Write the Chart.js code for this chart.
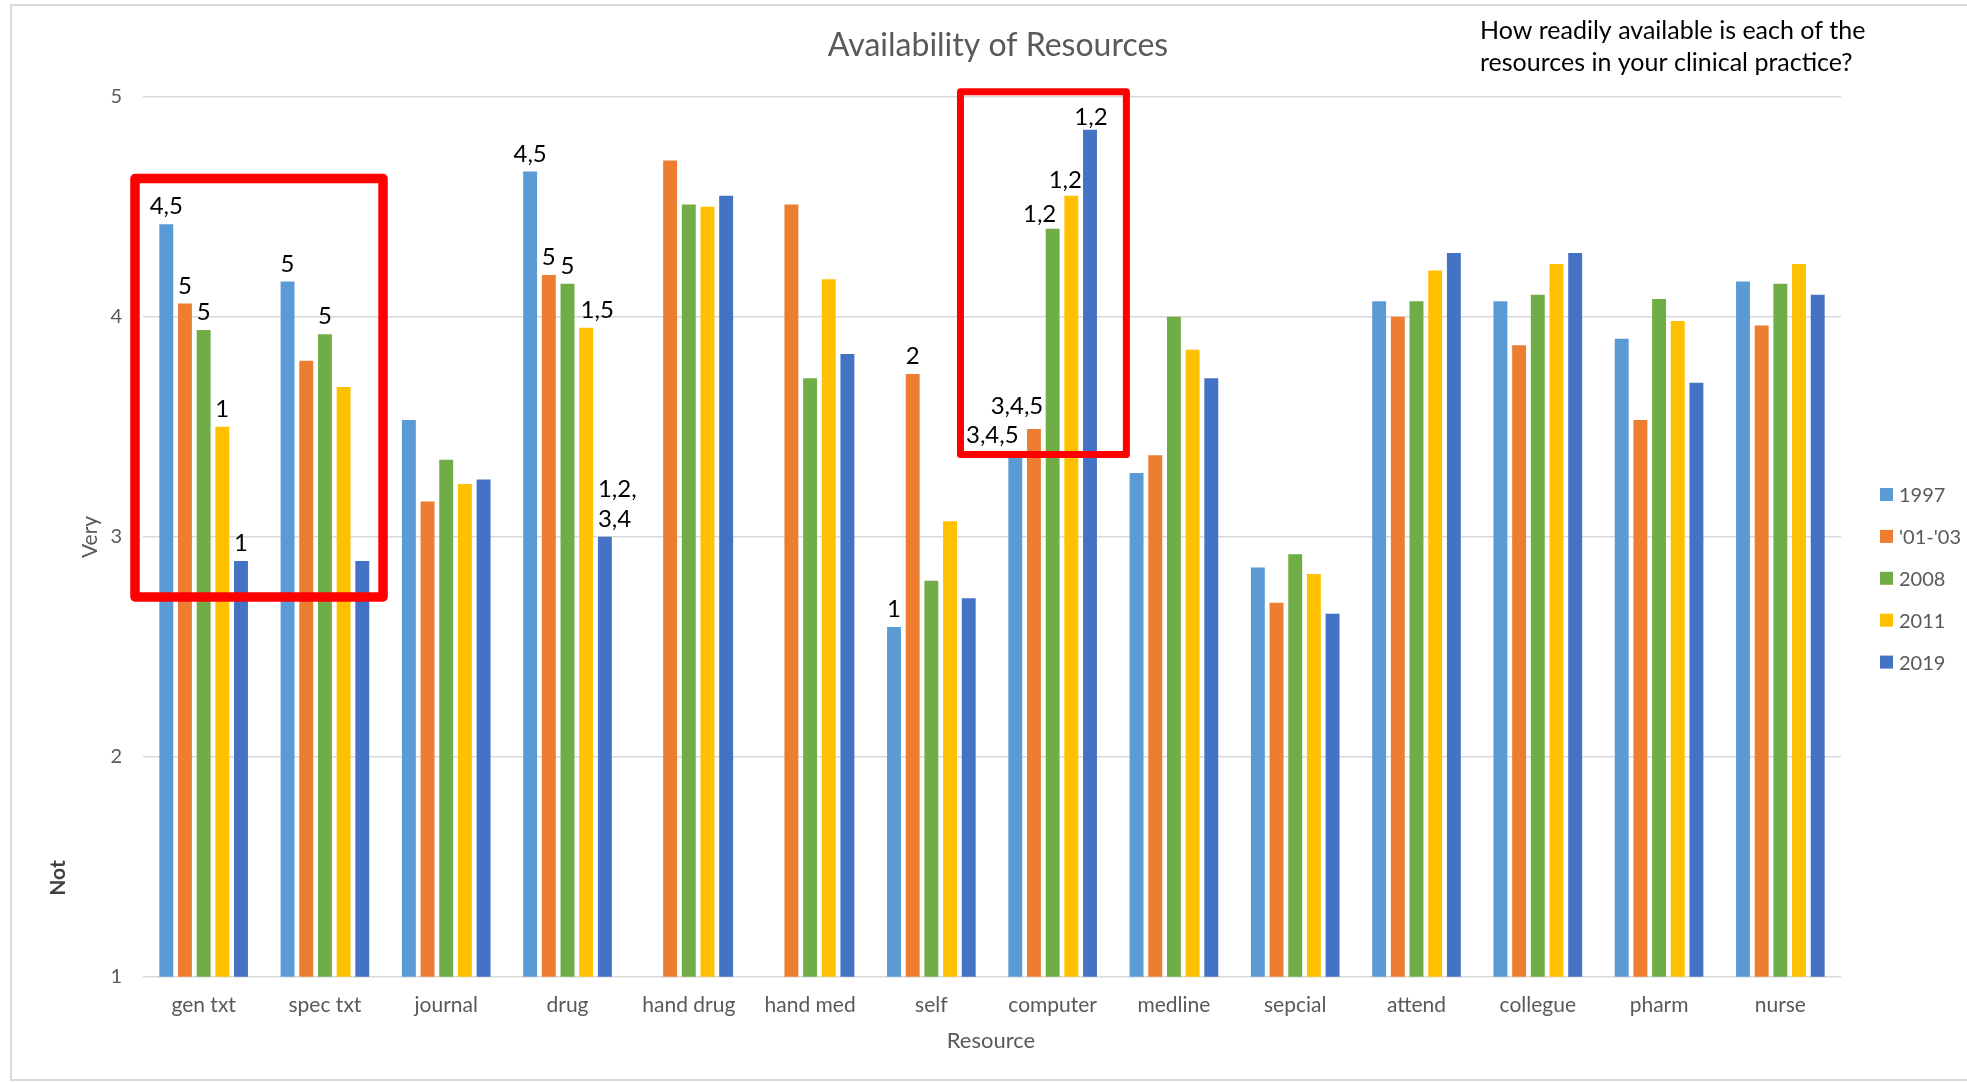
<!DOCTYPE html>
<html>
<head>
<meta charset="utf-8">
<title>Availability of Resources</title>
<script src="https://cdn.jsdelivr.net/npm/chart.js@4/dist/chart.umd.min.js"></script>
<style>
  html, body { margin: 0; padding: 0; background: #ffffff; }
  #wrap { width: 1967px; height: 1083px; position: relative; }
  canvas { display: block; }
</style>
</head>
<body>
<div id="wrap"><canvas id="chart" width="1967" height="1083"></canvas></div>
<script>
// Survey resources (x categories)
const categories = ['gen txt', 'spec txt', 'journal', 'drug', 'hand drug', 'hand med', 'self',
  'computer', 'medline', 'sepcial', 'attend', 'collegue', 'pharm', 'nurse'];

// Survey waves
const seriesNames = ['1997', "'01-'03", '2008', '2011', '2019'];

// Mean availability rating (1 = Not, 5 = Very); null = not asked that year
const values1997 = [4.42, 4.16, 3.53, 4.66, null, null, 2.59, 3.38, 3.29, 2.86, 4.07, 4.07, 3.90, 4.16];
const values0103 = [4.06, 3.80, 3.16, 4.19, 4.71, 4.51, 3.74, 3.49, 3.37, 2.70, 4.00, 3.87, 3.53, 3.96];
const values2008 = [3.94, 3.92, 3.35, 4.15, 4.51, 3.72, 2.80, 4.40, 4.00, 2.92, 4.07, 4.10, 4.08, 4.15];
const values2011 = [3.50, 3.68, 3.24, 3.95, 4.50, 4.17, 3.07, 4.55, 3.85, 2.83, 4.21, 4.24, 3.98, 4.24];
const values2019 = [2.89, 2.89, 3.26, 3.00, 4.55, 3.83, 2.72, 4.85, 3.72, 2.65, 4.29, 4.29, 3.70, 4.10];

// Waves each mean differs significantly from
const sig1997 = ['4,5', '5', null, '4,5', null, null, '1', '3,4,5', null, null, null, null, null, null];
const sig0103 = ['5', null, null, '5', null, null, '2', '3,4,5', null, null, null, null, null, null];
const sig2008 = ['5', '5', null, '5', null, null, null, '1,2', null, null, null, null, null, null];
const sig2011 = ['1', null, null, '1,5', null, null, null, '1,2', null, null, null, null, null, null];
const sig2019 = ['1', null, null, '1,2,\n3,4', null, null, null, '1,2', null, null, null, null, null, null];

const yTicks = [1, 2, 3, 4, 5];

const seriesValues = [values1997, values0103, values2008, values2011, values2019];
const seriesSig = [sig1997, sig0103, sig2008, sig2011, sig2019];
const seriesColors = ['#5B9BD5', '#ED7D31', '#70AD47', '#FFC000', '#4472C4'];

const FONT = 'Lato, "Open Sans", "Liberation Sans", sans-serif';
const GREY = '#595959';

// Nudges for significance labels that sit off-centre (key: series:category)
const labelNudge = {
  '3:3': { dx: 11 },
  '4:3': { align: 'left', dx: 0 },
  '0:7': { dx: -23 },
  '1:7': { dx: -17, dy: -5 },
  '2:7': { dx: -13, dy: 3 },
  '3:7': { dx: -6, dy: 2 },
  '4:7': { dx: 1, dy: 5 }
};

// Red highlight frames, in category-index / rating units
const highlightFrames = [
  { from: -0.566, to: 1.479, top: 4.628, bottom: 2.726, width: 9.5 },
  { from: 6.24, to: 7.608, top: 5.023, bottom: 3.374, width: 7 }
];

const overlay = {
  id: 'overlay',
  beforeDraw(chart) {
    const ctx = chart.ctx;
    ctx.save();
    ctx.fillStyle = '#ffffff';
    ctx.fillRect(0, 0, chart.width, chart.height);
    ctx.strokeStyle = '#d9d9d9';
    ctx.lineWidth = 2;
    ctx.strokeRect(11, 5, chart.width + 20, 1075);
    ctx.restore();
  },
  afterDatasetsDraw(chart) {
    const ctx = chart.ctx;
    const xs = chart.scales.x, ys = chart.scales.y;
    ctx.save();
    // highlight frames
    ctx.strokeStyle = '#FF0000';
    ctx.lineJoin = 'round';
    highlightFrames.forEach(f => {
      const x0 = xs.getPixelForValue(f.from), x1 = xs.getPixelForValue(f.to);
      const y0 = ys.getPixelForValue(f.top), y1 = ys.getPixelForValue(f.bottom);
      ctx.lineWidth = f.width;
      ctx.strokeRect(x0, y0, x1 - x0, y1 - y0);
    });
    // significance labels
    ctx.fillStyle = '#000000';
    ctx.font = '24px ' + FONT;
    ctx.textBaseline = 'alphabetic';
    seriesSig.forEach((labels, si) => {
      const meta = chart.getDatasetMeta(si);
      labels.forEach((txt, ci) => {
        if (!txt) return;
        const bar = meta.data[ci];
        if (!bar) return;
        const nudge = labelNudge[si + ':' + ci] || {};
        const lines = txt.split('\n');
        let x = bar.x + (nudge.dx || 0);
        if (nudge.align === 'left') {
          ctx.textAlign = 'left';
          x = bar.x - bar.width / 2 + (nudge.dx || 0);
        } else {
          ctx.textAlign = 'center';
        }
        const base = bar.y - 10 + (nudge.dy || 0);
        lines.forEach((ln, li) => {
          ctx.fillText(ln, x, base - (lines.length - 1 - li) * 30);
        });
      });
    });
    ctx.restore();
  },
  afterDraw(chart) {
    const ctx = chart.ctx;
    ctx.save();
    // title
    ctx.fillStyle = GREY;
    ctx.font = '32px ' + FONT;
    ctx.textAlign = 'center';
    ctx.textBaseline = 'alphabetic';
    ctx.fillText('Availability of Resources', 998, 56);
    // question note
    ctx.fillStyle = '#000000';
    ctx.font = '25px ' + FONT;
    ctx.textAlign = 'left';
    ctx.fillText('How readily available is each of the', 1480, 39);
    ctx.fillText('resources in your clinical practice?', 1480, 71);
    // x axis title
    ctx.fillStyle = GREY;
    ctx.font = '22px ' + FONT;
    ctx.textAlign = 'center';
    ctx.textBaseline = 'middle';
    ctx.fillText('Resource', 991, 1041);
    // y axis end labels
    ctx.save();
    ctx.translate(90, 537);
    ctx.rotate(-Math.PI / 2);
    ctx.font = '21px ' + FONT;
    ctx.fillStyle = GREY;
    ctx.fillText('Very', 0, 0);
    ctx.restore();
    ctx.save();
    ctx.translate(58, 878);
    ctx.rotate(-Math.PI / 2);
    ctx.font = 'bold 21px ' + FONT;
    ctx.fillStyle = '#404040';
    ctx.fillText('Not', 0, 0);
    ctx.restore();
    // legend
    ctx.font = '20px ' + FONT;
    ctx.textAlign = 'left';
    ctx.textBaseline = 'middle';
    chart.data.datasets.forEach((ds, i) => {
      const cy = 494.5 + i * 41.9;
      ctx.fillStyle = ds.backgroundColor;
      ctx.fillRect(1880, cy - 6.5, 13, 13);
      ctx.fillStyle = GREY;
      ctx.fillText(ds.label, 1899, cy + 1);
    });
    ctx.restore();
  }
};

function build() {
  const datasets = seriesNames.map((name, i) => ({
    label: name,
    data: seriesValues[i],
    backgroundColor: seriesColors[i],
    borderWidth: 0,
    categoryPercentage: 0.77,
    barPercentage: 0.745
  }));

  new Chart(document.getElementById('chart'), {
    type: 'bar',
    data: { labels: categories, datasets },
    plugins: [overlay],
    options: {
      responsive: false,
      animation: false,
      devicePixelRatio: 1,
      layout: { padding: { top: 96.7, right: 126, bottom: 0, left: 0 } },
      plugins: {
        legend: { display: false },
        title: { display: false },
        tooltip: { enabled: false }
      },
      scales: {
        x: {
          grid: { display: false, drawTicks: false },
          border: { display: false },
          ticks: { color: GREY, font: { family: FONT, size: 21 }, padding: 16, maxRotation: 0, autoSkip: false },
          afterFit(scale) { scale.height = 106.3; }
        },
        y: {
          min: yTicks[0],
          max: yTicks[yTicks.length - 1],
          afterBuildTicks(scale) { scale.ticks = yTicks.map(v => ({ value: v })); },
          grid: { color: '#d9d9d9', lineWidth: 1.5, drawTicks: false },
          border: { display: false },
          ticks: { color: GREY, font: { family: FONT, size: 20 }, padding: 21 },
          afterFit(scale) { scale.width = 143; }
        }
      }
    }
  });
}

const fontsReady = document.fonts && document.fonts.load
  ? Promise.all([document.fonts.load('20px Lato'), document.fonts.load('bold 20px Lato')]).catch(() => {})
  : Promise.resolve();
fontsReady.then(build);
</script>
</body>
</html>
